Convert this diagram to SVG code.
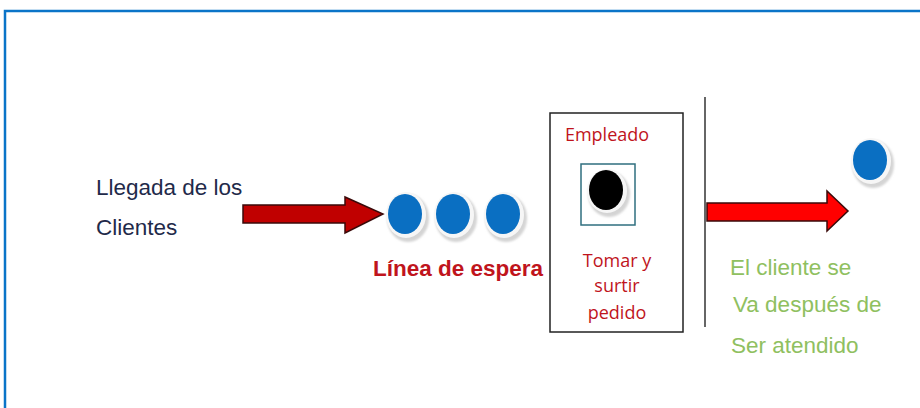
<svg xmlns="http://www.w3.org/2000/svg" width="920" height="408" viewBox="0 0 920 408">
<defs>
<style>
.sans{font-family:"Liberation Sans",Arial,sans-serif}
.cal{font-family:"Open Sans","Liberation Sans",sans-serif}
.navy{fill:#1f2a4a;font-size:22.5px}
.green{fill:#8fc060;font-size:22.5px}
.red2{fill:#c0141c;font-size:18px}
.dot{fill:#0a6fc2}
.halo{fill:#d4d4d4}
.ring{fill:#f6f6f6}
</style>
<filter id="sh" x="-30%" y="-30%" width="160%" height="160%"><feGaussianBlur stdDeviation="1.3"/></filter>
</defs>
<rect width="920" height="408" fill="#ffffff"/>
<path d="M5,408 V11 H920" fill="none" stroke="#0a74c8" stroke-width="2.5"/>
<g id="llegada">
<text class="sans navy" x="96" y="195">Llegada de los</text>
<text class="sans navy" x="96" y="235">Clientes</text>
</g>
<g id="connectors">
<path d="M243,205 H345 V197 L383,214 L345,233 V223 H243 Z" fill="#c00000" stroke="#3a0a0a" stroke-width="1.5"/>
<path d="M707,203 H827 V191 L848,211 L827,231 V221 H707 Z" fill="#ff0000" stroke="#3a0a0a" stroke-width="1.5"/>
</g>
<g id="cola">
<ellipse class="halo" cx="408" cy="218" rx="21" ry="24" filter="url(#sh)"/>
<ellipse class="ring" cx="406" cy="215" rx="20" ry="23"/>
<ellipse class="dot" cx="405" cy="214" rx="17" ry="20"/>
<ellipse class="halo" cx="456" cy="218" rx="21" ry="24" filter="url(#sh)"/>
<ellipse class="ring" cx="454" cy="215" rx="20" ry="23"/>
<ellipse class="dot" cx="453" cy="214" rx="17" ry="20"/>
<ellipse class="halo" cx="506" cy="218" rx="21" ry="24" filter="url(#sh)"/>
<ellipse class="ring" cx="504" cy="215" rx="20" ry="23"/>
<ellipse class="dot" cx="503" cy="214" rx="17" ry="20"/>
<text class="sans" x="373" y="276" fill="#c0141c" font-size="22.5" font-weight="bold">Línea de espera</text>
</g>
<g id="empleado">
<rect x="550" y="113" width="133" height="219" fill="#ffffff" stroke="#222222" stroke-width="1.5"/>
<text class="cal red2" x="607" y="141" text-anchor="middle">Empleado</text>
<rect x="581" y="164" width="54" height="61" fill="#ffffff" stroke="#2f6f7f" stroke-width="1.5"/>
<ellipse cx="609" cy="194" rx="21" ry="23" fill="#d4d4d4" filter="url(#sh)"/>
<ellipse cx="607" cy="191" rx="20" ry="22" fill="#f6f6f6"/>
<ellipse cx="606" cy="190" rx="17" ry="20" fill="#000000"/>
<text class="cal red2" x="617" y="267" text-anchor="middle">Tomar y</text>
<text class="cal red2" x="617" y="292" text-anchor="middle">surtir</text>
<text class="cal red2" x="617" y="319" text-anchor="middle">pedido</text>
</g>
<g id="separador">
<line x1="705" y1="97" x2="705" y2="327" stroke="#333333" stroke-width="1.5"/>
</g>
<g id="salida">
<ellipse class="halo" cx="873" cy="164" rx="21" ry="24" filter="url(#sh)"/>
<ellipse class="ring" cx="871" cy="161" rx="20" ry="23"/>
<ellipse class="dot" cx="870" cy="160" rx="17" ry="20"/>
<text class="sans green" x="730" y="275">El cliente se</text>
<text class="sans green" x="733" y="312">Va después de</text>
<text class="sans green" x="731" y="353">Ser atendido</text>
</g>
</svg>
